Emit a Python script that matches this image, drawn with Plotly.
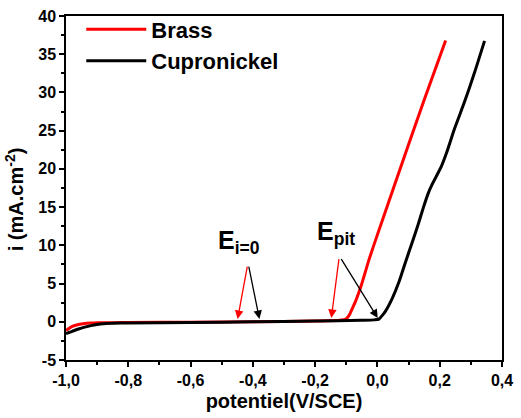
import plotly.graph_objects as go

# Brass polarization curve (V/SCE, mA/cm2)
brass_E = [-1.0, -0.98, -0.96, -0.94, -0.92, -0.9, -0.85, -0.8, -0.6, -0.4, -0.2,
           -0.12, -0.10, -0.09, -0.08, -0.07, -0.05, -0.028, 0.0, 0.05, 0.1, 0.15, 0.219]
brass_i = [-1.15, -0.6, -0.35, -0.22, -0.17, -0.14, -0.12, -0.1, -0.05, 0.0, 0.1,
           0.2, 0.4, 0.9, 1.8, 2.7, 5.0, 8.0, 11.4, 17.3, 23.2, 29.0, 36.8]

# Cupronickel polarization curve
cuni_E = [-1.0, -0.98, -0.96, -0.94, -0.92, -0.9, -0.88, -0.85, -0.8, -0.6, -0.4, -0.2,
          -0.05, -0.01, 0.005, 0.015, 0.026, 0.048, 0.069, 0.09, 0.111, 0.132, 0.148,
          0.163, 0.176, 0.19, 0.206, 0.222, 0.248, 0.28, 0.311, 0.344]
cuni_i = [-1.55, -1.25, -0.95, -0.7, -0.5, -0.35, -0.25, -0.2, -0.15, -0.1, 0.0, 0.1,
          0.2, 0.25, 0.35, 0.8, 1.4, 3.1, 5.2, 7.8, 10.3, 12.9, 15.0,
          16.8, 18.0, 19.1, 20.4, 22.1, 25.3, 28.8, 32.5, 36.75]

# Arrow annotations: (tip E, tip i, tail E, tail i, color)
arrows_E = [-0.449, -0.379, -0.148, 0.001]
arrows_i = [0.37, 0.37, 0.5, 0.5]
arrows_tail_E = [-0.417, -0.414, -0.123, -0.119]
arrows_tail_i = [7.4, 7.4, 8.4, 8.4]
arrows_color = ["#ff0000", "#000000", "#ff0000", "#000000"]

labels = ["E<sub>i=0</sub>", "E<sub>pit</sub>"]
labels_E = [-0.446, -0.133]
labels_i = [10.4, 11.6]

# Tick labels
x_ticks = [-1.0, -0.8, -0.6, -0.4, -0.2, 0.0, 0.2, 0.4]
x_ticklabels = ["-1,0", "-0,8", "-0,6", "-0,4", "-0,2", "0,0", "0,2", "0,4"]
y_ticks = [-5, 0, 5, 10, 15, 20, 25, 30, 35, 40]
y_ticklabels = ["-5", "0", "5", "10", "15", "20", "25", "30", "35", "40"]

x_title = "potentiel(V/SCE)"
y_title = "i (mA.cm<sup>-2</sup>)"

FONT = "Liberation Sans, Arial, sans-serif"

fig = go.Figure()
fig.add_trace(go.Scatter(x=brass_E, y=brass_i, mode="lines", name="<b>Brass</b>",
                         line=dict(color="#ff0000", width=3, shape="spline", smoothing=0.6)))
fig.add_trace(go.Scatter(x=cuni_E, y=cuni_i, mode="lines", name="<b>Cupronickel</b>",
                         line=dict(color="#000000", width=3, shape="spline", smoothing=0.6)))

for xe, yi, xt, yt, c in zip(arrows_E, arrows_i, arrows_tail_E, arrows_tail_i, arrows_color):
    fig.add_annotation(x=xe, y=yi, ax=xt, ay=yt, xref="x", yref="y", axref="x", ayref="y",
                       text="", showarrow=True, arrowhead=2, arrowsize=1.3, arrowwidth=1.3,
                       arrowcolor=c)

for t, xe, yi in zip(labels, labels_E, labels_i):
    fig.add_annotation(x=xe, y=yi, xref="x", yref="y", text="<b>" + t + "</b>",
                       showarrow=False, font=dict(family=FONT, size=25, color="black"))

# y-axis title (placed as rotated text to match the reference offset)
fig.add_annotation(x=-0.118, y=0.466, xref="paper", yref="paper", text="<b>" + y_title + "</b>",
                   textangle=-90, showarrow=False, xanchor="center", yanchor="middle",
                   font=dict(family=FONT, size=20, color="black"))

axis_common = dict(showline=True, linecolor="black", linewidth=1.5, mirror=True,
                   ticks="outside", ticklen=5, tickwidth=1.5, tickcolor="black",
                   showgrid=False, zeroline=False,
                   tickfont=dict(family=FONT, size=16, color="black"))

fig.update_xaxes(range=[-1.0, 0.4], tickmode="array", tickvals=x_ticks,
                 ticktext=["<b>" + s + "</b>" for s in x_ticklabels],
                 minor=dict(dtick=0.1, tick0=-1.0, ticks="outside", ticklen=3, tickwidth=1.5,
                            tickcolor="black"),
                 title=dict(text="<b>" + x_title + "</b>", font=dict(family=FONT, size=20, color="black"),
                            standoff=6),
                 **axis_common)
fig.update_yaxes(range=[-5, 40], tickmode="array", tickvals=y_ticks,
                 ticktext=["<b>" + s + "</b>" for s in y_ticklabels],
                 minor=dict(dtick=2.5, tick0=-5, ticks="outside", ticklen=3, tickwidth=1.5,
                            tickcolor="black"),
                 **axis_common)

fig.update_layout(
    width=521, height=418,
    margin=dict(l=66, r=13, t=8, b=58),
    plot_bgcolor="white", paper_bgcolor="white",
    font=dict(family=FONT, color="black"),
    showlegend=True,
    legend=dict(x=0.035, y=1.022, xanchor="left", yanchor="top", bgcolor="rgba(0,0,0,0)",
                font=dict(family=FONT, size=22, color="black"), itemwidth=60,
                tracegroupgap=0),
)

fig.write_html("out.html")
